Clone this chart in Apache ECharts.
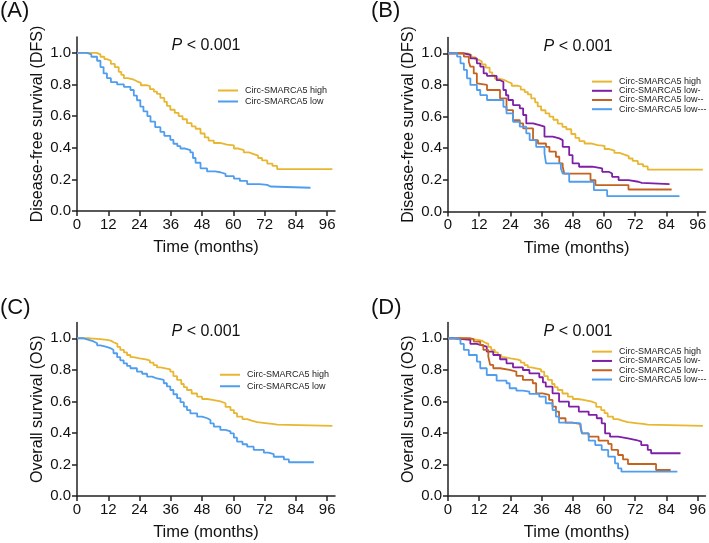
<!DOCTYPE html>
<html><head><meta charset="utf-8">
<script src="https://cdn.jsdelivr.net/npm/echarts@6/dist/echarts.min.js"></script>
<style>html,body{margin:0;padding:0;background:#fff}#c{width:709px;height:543px}</style>
</head><body><div id="c"></div>
<script>
const names = ['Circ-SMARCA5 high','Circ-SMARCA5 low','Circ-SMARCA5 low-','Circ-SMARCA5 low--','Circ-SMARCA5 low---'];
const xTicks = [0,12,24,36,48,60,72,84,96];
const yTicks = [0,0.2,0.4,0.6,0.8,1.0];
const panelLabels = ['(A)','(B)','(C)','(D)'];
const yTitles = ['Disease-free survival (DFS)','Disease-free survival (DFS)','Overall survival (OS)','Overall survival (OS)'];
const pText = 'P < 0.001';

const dfsHigh = [[0,1],[6.4,1],[7.5,0.99],[9,0.975],[10.5,0.96],[11.5,0.95],[13,0.93],[14.5,0.91],[16,0.88],[17,0.86],[18,0.84],[19.5,0.83],[21.8,0.82],[23,0.81],[24.5,0.795],[26.9,0.79],[28,0.77],[29.5,0.755],[30.7,0.74],[32,0.715],[33.5,0.69],[34.5,0.665],[35.8,0.64],[37.5,0.62],[39,0.6],[40.5,0.58],[42.2,0.555],[44,0.535],[45.5,0.52],[47.4,0.49],[49,0.465],[50.5,0.445],[52.5,0.43],[55,0.42],[57.5,0.415],[60.2,0.395],[62,0.385],[64,0.37],[66,0.36],[67.8,0.35],[69.5,0.335],[71,0.32],[73,0.3],[75,0.285],[76.8,0.265],[98,0.265]];
const dfsLow = [[0,1],[2,1],[3.8,0.99],[5.5,0.975],[7.7,0.95],[9,0.91],[10.2,0.87],[11.5,0.84],[13,0.815],[15.4,0.8],[18,0.785],[20.5,0.765],[21.8,0.73],[23,0.7],[24.3,0.66],[25.5,0.63],[27,0.6],[28.2,0.565],[30,0.53],[32,0.5],[33.5,0.475],[35.8,0.45],[37,0.425],[38.5,0.41],[39.7,0.395],[41.5,0.385],[43.5,0.37],[44.5,0.335],[45.5,0.305],[47.4,0.27],[49.9,0.25],[53,0.245],[55,0.235],[57,0.22],[60.2,0.205],[62.5,0.19],[65.3,0.17],[70,0.165],[73,0.155],[74.2,0.147],[89.6,0.147]];
const dfsLow1 = [[0,1],[4,1],[6.1,0.99],[8.6,0.968],[11.1,0.937],[12.4,0.916],[13.7,0.873],[15,0.857],[18.7,0.83],[20,0.82],[21.3,0.768],[22.3,0.735],[23.2,0.705],[25,0.673],[27.6,0.652],[28.9,0.61],[30.1,0.557],[32.7,0.546],[35.2,0.536],[37.1,0.473],[40.3,0.462],[42.8,0.451],[44.1,0.409],[46.6,0.356],[47.9,0.304],[50.4,0.283],[55.5,0.272],[59.3,0.251],[61.8,0.24],[63.1,0.219],[65.6,0.198],[69.4,0.188],[73.2,0.181],[74.5,0.173],[85.2,0.173]];
const dfsLow2 = [[0,1],[4.8,1],[6.1,0.979],[8,0.947],[8.6,0.916],[9.9,0.873],[11.1,0.81],[11.8,0.8],[15,0.768],[20,0.715],[22.5,0.641],[25,0.578],[27.6,0.557],[28.9,0.525],[32.7,0.451],[34.6,0.43],[37.7,0.409],[39,0.378],[41.5,0.346],[42.8,0.304],[44.1,0.283],[44.7,0.24],[54.8,0.198],[56.7,0.167],[69.4,0.139],[86,0.139]];
const dfsLow3 = [[0,1],[2.5,1],[3.5,0.979],[4.8,0.937],[6.1,0.895],[7.3,0.842],[8.6,0.8],[11.1,0.768],[12.4,0.736],[15,0.705],[21.3,0.662],[22.5,0.62],[25,0.567],[27.6,0.536],[30.1,0.494],[31.4,0.451],[33.9,0.409],[37.1,0.367],[37.7,0.304],[43.4,0.272],[44.1,0.24],[46.6,0.188],[56.1,0.135],[61.2,0.097],[89,0.097]];
const osHigh = [[0,1],[3.8,1],[5,0.995],[9,0.99],[11.5,0.985],[13,0.975],[14,0.965],[15.5,0.945],[16.6,0.926],[18,0.91],[19.2,0.894],[20.5,0.88],[21.7,0.873],[24,0.865],[26.9,0.858],[28,0.845],[29.4,0.83],[30.7,0.815],[32,0.803],[35.8,0.788],[37,0.76],[38.4,0.736],[40,0.71],[41,0.69],[42.2,0.672],[44,0.65],[46.1,0.63],[48,0.615],[50,0.609],[52,0.6],[55,0.588],[57,0.565],[58.9,0.545],[60.2,0.525],[61.4,0.503],[63.5,0.488],[65.3,0.478],[67,0.468],[69.1,0.461],[73,0.457],[75,0.452],[76.8,0.444],[98,0.444]];
const osLow = [[0,1],[1.5,1],[2.6,0.99],[4.5,0.98],[6.4,0.968],[7.7,0.955],[9,0.947],[11,0.938],[12.8,0.926],[14,0.905],[15.4,0.88],[16.6,0.86],[17.9,0.841],[19.2,0.825],[20.5,0.81],[23,0.789],[25,0.775],[26.9,0.757],[28.8,0.745],[30.7,0.736],[33.3,0.715],[34.5,0.695],[35.8,0.672],[37,0.645],[38.4,0.62],[39.7,0.595],[41,0.567],[42.2,0.545],[43.5,0.524],[46.1,0.503],[48,0.493],[50,0.482],[51.2,0.46],[52.5,0.44],[55,0.419],[57,0.41],[58.9,0.397],[60.2,0.37],[61.4,0.345],[63.5,0.328],[65.3,0.313],[67.8,0.292],[71.7,0.275],[73.5,0.265],[75.5,0.249],[79.4,0.232],[81.3,0.214],[90.9,0.214]];
const osLow1 = [[0,1],[1,1],[2.3,0.99],[8.6,0.964],[11.1,0.958],[12.4,0.947],[14.9,0.915],[17.4,0.894],[20,0.867],[22.5,0.841],[25,0.816],[28.8,0.799],[31.3,0.778],[35.1,0.753],[36.5,0.72],[37.6,0.693],[40.2,0.651],[42.7,0.598],[46.5,0.567],[50.3,0.535],[54.1,0.514],[57.2,0.493],[59.1,0.461],[60.4,0.397],[62.3,0.376],[65.4,0.366],[69.2,0.355],[72.4,0.345],[74.3,0.323],[76.8,0.292],[78.1,0.271],[89.4,0.271]];
const osLow2 = [[0,1],[6.1,1],[8.6,0.995],[9.9,0.979],[12.4,0.958],[13.6,0.926],[15.5,0.884],[16.2,0.831],[17.4,0.81],[20,0.799],[23.7,0.789],[26.3,0.761],[28.8,0.736],[32.6,0.715],[33.9,0.651],[36.4,0.641],[38.9,0.609],[40.2,0.567],[41.5,0.535],[42.7,0.493],[45.2,0.465],[47.7,0.457],[50.9,0.44],[51.5,0.397],[54.1,0.376],[57.9,0.351],[61.6,0.33],[62.9,0.292],[65.4,0.26],[67.3,0.232],[69.2,0.203],[80,0.165],[85.6,0.165]];
const osLow3 = [[0,1],[2.5,1],[3.5,0.99],[4.8,0.964],[6.1,0.926],[8,0.894],[11.1,0.852],[12.4,0.81],[14.9,0.767],[18.7,0.731],[22.5,0.715],[23.7,0.683],[26.3,0.668],[28.8,0.662],[31.3,0.647],[35.1,0.63],[37.6,0.588],[40.2,0.545],[41.5,0.503],[42.7,0.465],[47.7,0.461],[50.9,0.45],[51.5,0.397],[54.1,0.351],[56.6,0.323],[59.1,0.292],[61.6,0.25],[64.2,0.207],[65.4,0.175],[66.7,0.154],[88.2,0.154]];

const colors = {'Circ-SMARCA5 high':'#E8B630','Circ-SMARCA5 low':'#4F9DEF','Circ-SMARCA5 low-':'#7E1FA6','Circ-SMARCA5 low--':'#C5621F','Circ-SMARCA5 low---':'#4F9DEF'};
const FONT = '"Liberation Sans", Arial, sans-serif';

const panels = [
  {grid:{left:77,top:37,width:258,height:174}, series:[[names[0],dfsHigh],[names[1],dfsLow]], legend:{left:213,top:80,lh:11}},
  {grid:{left:448,top:37.5,width:260,height:174}, series:[[names[0],dfsHigh],[names[2],dfsLow1],[names[3],dfsLow2],[names[4],dfsLow3]], legend:{left:587,top:72,lh:9.2}},
  {grid:{left:77,top:322.5,width:258,height:173.5}, series:[[names[0],osHigh],[names[1],osLow]], legend:{left:215,top:364,lh:11.5}},
  {grid:{left:448,top:322.5,width:260,height:173.5}, series:[[names[0],osHigh],[names[2],osLow1],[names[3],osLow2],[names[4],osLow3]], legend:{left:587,top:342,lh:9.3}}
];
const labelPos = [[0,0],[371,0],[0,297],[371,297]];

const option = {animation:false, textStyle:{fontFamily:FONT}, grid:[], xAxis:[], yAxis:[], series:[], legend:[], title:[]};
panels.forEach((p,i)=>{
  option.grid.push(p.grid);
  option.xAxis.push({type:'value', gridIndex:i, min:0, max:99,
    axisLine:{show:true,lineStyle:{color:'#222',width:1.5}},
    axisTick:{show:true,customValues:xTicks,length:5,lineStyle:{color:'#222',width:1.5}},
    axisLabel:{customValues:xTicks,fontSize:15,color:'#111',margin:6,fontFamily:FONT},
    splitLine:{show:false},
    name:'Time (months)', nameLocation:'middle', nameGap:28,
    nameTextStyle:{fontSize:16.5,color:'#111',fontFamily:FONT}});
  option.yAxis.push({type:'value', gridIndex:i, min:0, max:1.1,
    axisLine:{show:true,lineStyle:{color:'#222',width:1.5}},
    axisTick:{show:true,customValues:yTicks,length:5,lineStyle:{color:'#222',width:1.5}},
    axisLabel:{customValues:yTicks,fontSize:15,color:'#111',margin:6,fontFamily:FONT,formatter:v=>v.toFixed(1)},
    splitLine:{show:false},
    name:yTitles[i], nameLocation:'middle', nameGap:31,
    nameTextStyle:{fontSize:16,color:'#111',fontFamily:FONT}});
  const legNames = [];
  p.series.forEach(([n,d])=>{
    legNames.push(n);
    option.series.push({type:'line', name:n, xAxisIndex:i, yAxisIndex:i, data:d, step:'end',
      symbol:'none', lineStyle:{width:1.8,color:colors[n]}, itemStyle:{color:colors[n]}, z: n===names[0]?2:3});
  });
  option.legend.push({orient:'vertical', left:p.legend.left, top:p.legend.top, data:legNames,
    icon:'rect', itemWidth:20, itemHeight:2, itemGap:0, selectedMode:false,
    textStyle:{fontSize:9, color:'#222', lineHeight:p.legend.lh, fontFamily:FONT, padding:[0,0,0,2]}});
  const g = p.grid;
  option.title.push({text:'{i|P} < 0.001', left:g.left + g.width/2 - 5, top:g.top-4, textAlign:'center',
    textStyle:{fontSize:16, fontWeight:'normal', color:'#111', fontFamily:FONT,
      rich:{i:{fontStyle:'italic',fontSize:16,color:'#111',fontFamily:FONT}}}});
  option.title.push({text:panelLabels[i], left:labelPos[i][0], top:labelPos[i][1],
    textStyle:{fontSize:22, fontWeight:'normal', color:'#111', fontFamily:FONT}, padding:0});
});
const chart = echarts.init(document.getElementById('c'), null, {renderer:'canvas'});
chart.setOption(option);
</script></body></html>
